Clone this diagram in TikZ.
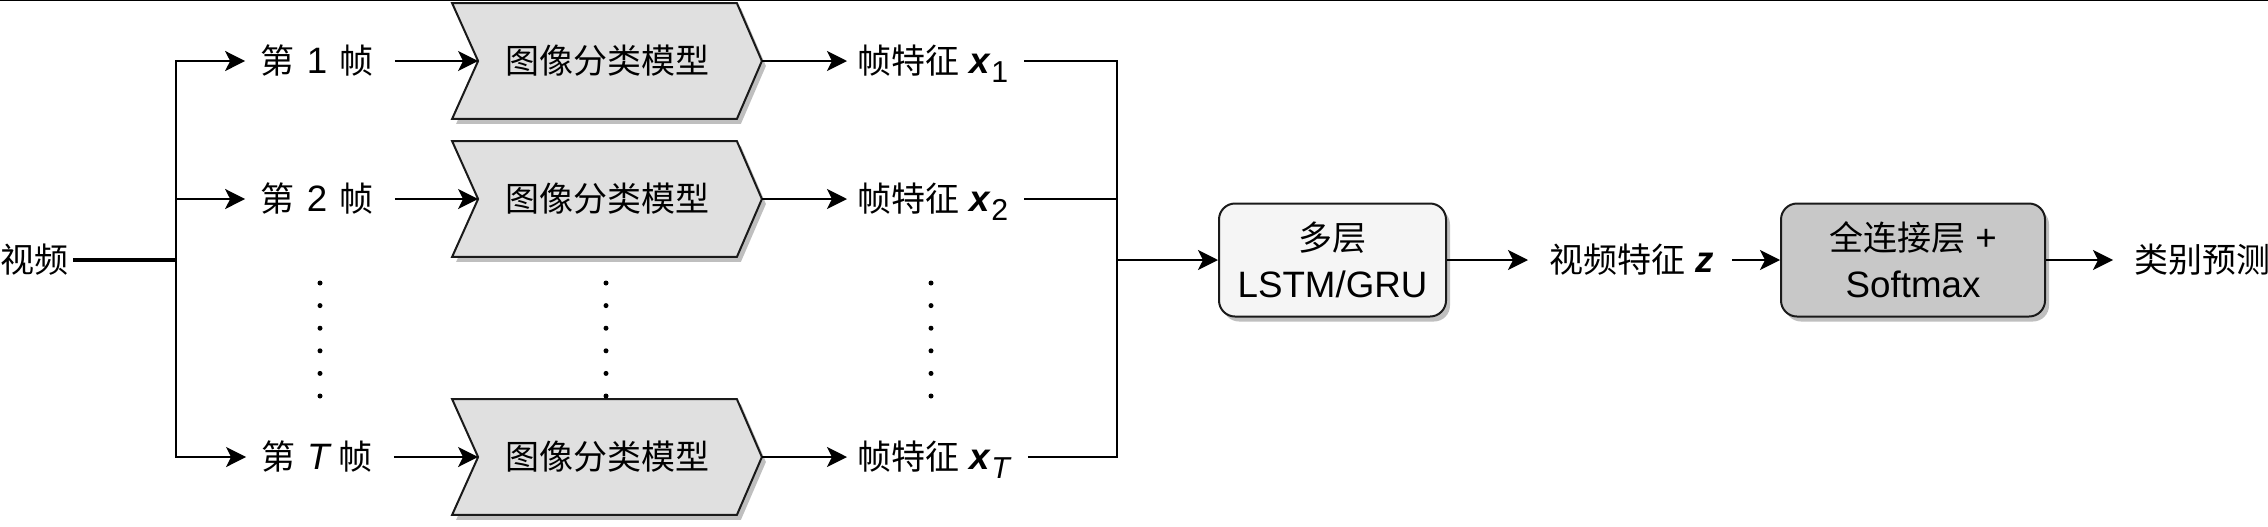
\documentclass[tikz,border=0pt]{standalone}
\usepackage{fontspec}
\setmainfont{Liberation Sans}[Scale=1.08]
\newfontfamily\cjk{Noto Sans CJK SC}
\usetikzlibrary{arrows.meta,shadows,backgrounds}
\newcommand{\zh}[1]{{\cjk #1}}
\newcommand{\vsub}[1]{\smash{\raisebox{-0.45ex}{\fontsize{14}{14}\selectfont #1}}}
\definecolor{chevfill}{HTML}{E0E0E0}
\definecolor{lstmfill}{HTML}{F5F5F5}
\definecolor{fcfill}{HTML}{C8C8C8}
\definecolor{edge}{HTML}{1A1A1A}
\begin{document}
\begin{tikzpicture}[x=0.5pt,y=-0.5pt,
  every node/.style={font=\fontsize{17}{23.5}\selectfont, inner sep=0pt},
  arr/.style={-{Stealth[length=10pt,width=10pt,inset=2.5pt]}, line width=1pt},
  ln/.style={line width=1pt},
  boxshadow/.style={drop shadow={shadow xshift=2pt, shadow yshift=-2.5pt, fill=black, opacity=0.25}},
  chevnode/.style={minimum width=154.5pt, minimum height=57.5pt},
  rbox/.style={draw=edge, line width=1pt, rounded corners=8pt, boxshadow, align=center}
]
\useasboundingbox (0,0) rectangle (2268,526);
\draw[line width=1pt] (0,0) -- (2268,0);

% input
\node[anchor=west] (video) at (0,260) {\zh{视频}};
\coordinate (br) at (176,260);
\draw[line width=2pt] ([xshift=2pt]video.east) -- (br);

% frame labels
\node (f1) at (317,61) {\zh{第}\,\,1\,\,\zh{帧}};
\node (f2) at (317,199) {\zh{第}\,\,2\,\,\zh{帧}};
\node (fT) at (317,457) {\zh{第}\,\,\textit{T}\,\zh{帧}};

% chevron model nodes
\node[chevnode] (m1) at (607,61) {\zh{图像分类模型}};
\node[chevnode] (m2) at (607,199) {\zh{图像分类模型}};
\node[chevnode] (mT) at (607,457) {\zh{图像分类模型}};
\begin{scope}[on background layer]
\foreach \m in {m1,m2,mT}{
  \filldraw[fill=chevfill, draw=edge, line width=1pt, line join=miter, boxshadow]
    (\m.north west) -- ([xshift=-12.5pt]\m.north east) -- (\m.east)
    -- ([xshift=-12.5pt]\m.south east) -- (\m.south west)
    -- ([xshift=13pt]\m.west) -- cycle;
}
\end{scope}

% feature labels
\node[anchor=west] (g1) at (857,61) {\zh{帧特征} \textbf{\textit{x}}\vsub{1}};
\node[anchor=west] (g2) at (857,199) {\zh{帧特征} \textbf{\textit{x}}\vsub{2}};
\node[anchor=west] (gT) at (857,457) {\zh{帧特征} \textbf{\textit{x}}\vsub{\textit{T}}};
\coordinate (merge) at (1117,260);

% LSTM and FC
\node[rbox, fill=lstmfill, minimum width=113.5pt, minimum height=56.5pt] (lstm) at (1332.5,260) {\zh{多层}\\LSTM/GRU};
\node[anchor=west] (z) at (1549,260) {\zh{视频特征} \textbf{\textit{z}}};
\node[rbox, fill=fcfill, minimum width=132pt, minimum height=56.5pt] (fc) at (1913,260) {\zh{全连接层} +\\Softmax};
\node[anchor=west] (pred) at (2134,260) {\zh{类别预测}};

% connectors: branch
\draw[ln] (br) -- (176,61);
\draw[ln] (br) -- (176,457);
\foreach \f in {f1,f2,fT}{
  \draw[arr, shorten >=7.5pt] (br) |- (\f);
}
\draw[arr, shorten <=10.5pt] (f1) -- ([xshift=13pt]m1.west);
\draw[arr, shorten <=10.5pt] (f2) -- ([xshift=13pt]m2.west);
\draw[arr, shorten <=10.5pt] (fT) -- ([xshift=13pt]mT.west);
\draw[arr, shorten >=5pt] (m1.east) -- (m1.east -| g1.west);
\draw[arr, shorten >=5pt] (m2.east) -- (m2.east -| g2.west);
\draw[arr, shorten >=5pt] (mT.east) -- (mT.east -| gT.west);
\foreach \g in {g1,g2,gT}{
  \draw[ln, shorten <=8pt] (\g.east) -| (merge);
}
\draw[arr] (merge) -- (lstm);
\draw[arr, shorten >=10.5pt] (lstm.east) -- (lstm.east -| z.west);
\draw[arr, shorten <=9pt] (z.east |- fc.west) -- (fc.west);
\draw[arr, shorten >=10.5pt] (fc.east) -- (fc.east -| pred.west);

% ellipsis dots
\foreach \x in {320,606,931}{
  \foreach \y in {283,305.6,328.2,350.8,373.4,396}{
    \fill (\x,\y) circle (1.25pt);
  }
}
\end{tikzpicture}
\end{document}
